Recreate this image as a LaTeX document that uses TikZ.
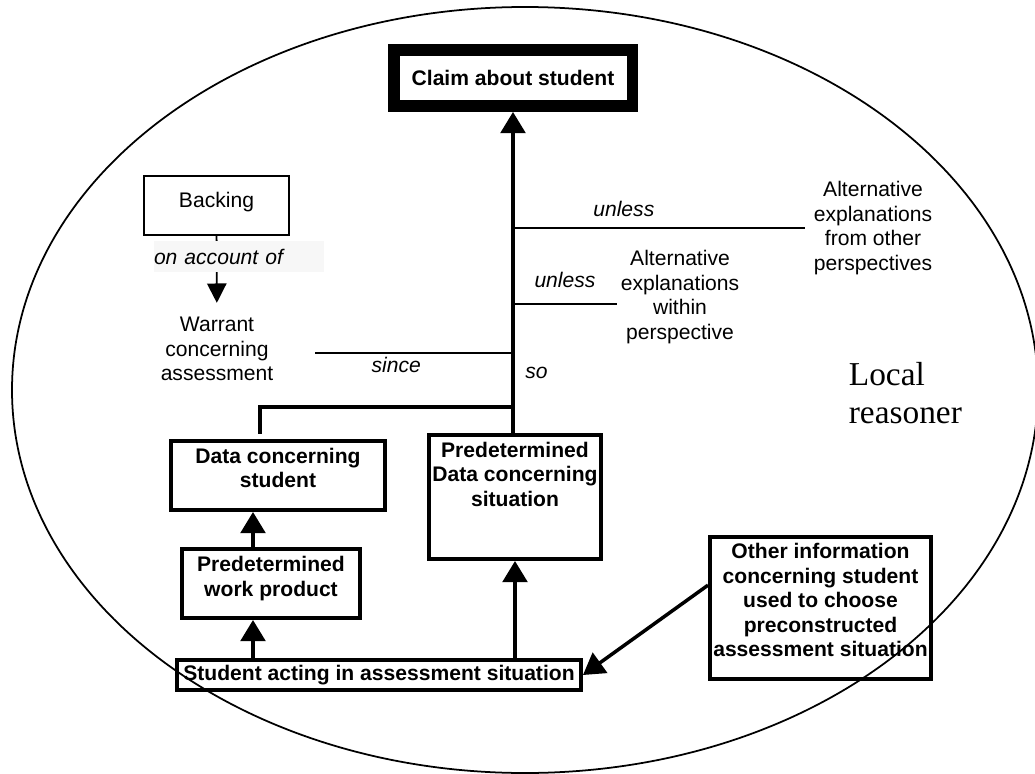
\documentclass[tikz,border=0pt]{standalone}
\usepackage{fontspec}
\setmainfont{Liberation Sans}
\newfontfamily\reasonerfont{Liberation Serif}
\usetikzlibrary{arrows.meta}

\begin{document}
\begin{tikzpicture}[x=0.02cm, y=-0.02cm,
        every node/.style={font=\fontsize{12}{13.9}\selectfont, align=center, inner sep=2pt},
        box/.style={draw, line width=2pt, font=\fontsize{12}{13.9}\selectfont\bfseries},
        thinbox/.style={draw, line width=1pt},
        lbl/.style={font=\fontsize{12}{13.9}\selectfont\itshape},
        conn/.style={line width=2pt},
        thinline/.style={line width=1pt},
        arr/.style={line width=2pt, -{Triangle[width=14pt,length=12pt]}},
        thinarr/.style={line width=1pt, -{Triangle[width=11pt,length=11pt]}}]
    \useasboundingbox (0,0) rectangle (1035,774);

    % Draw the frame of the reasoner
    \draw[line width=1pt] (525,390) ellipse [x radius=513, y radius=383];
    \node[font=\reasonerfont\fontsize{19}{22}\selectfont, align=left, anchor=west] (reasoner) at (845,393) {Local\\reasoner};

    % Draw the boxes
    \node[box, line width=6.8pt, minimum width=4.78cm, minimum height=1.12cm] (claim) at (513,78) {Claim about student};
    \node[box, minimum width=4.29cm, minimum height=1.39cm, text depth=8.5pt] (dstudent) at (278,475.5) {Data concerning\\student};
    \node[box, minimum width=3.57cm, minimum height=1.39cm, text depth=8pt] (wprod) at (271,583.5) {Predetermined\\work product};
    \node[box, minimum width=3.45cm, minimum height=2.49cm, text depth=26pt] (pdata) at (515,497) {Predetermined\\Data concerning\\situation};
    \node[box, inner xsep=1pt, minimum width=8.09cm, minimum height=0.61cm] (act) at (379,675) {Student acting in assessment situation};
    \node[box, inner xsep=1pt, minimum width=4.43cm, minimum height=2.85cm, text depth=9pt] (other) at (820.5,608) {Other information\\concerning student\\used to choose\\preconstructed\\assessment situation};

    % Draw the warrant and its backing
    \node[thinbox, minimum width=2.9cm, minimum height=1.18cm, text depth=6pt] (backing) at (216.5,205.5) {Backing};
    \node[inner ysep=8pt] (warrant) at (217,349) {Warrant\\concerning\\assessment};
    \draw[thinarr] (backing) -- (warrant);
    \node[lbl, fill=black!3, text width=3.4cm, inner xsep=0pt, align=left, minimum height=0.62cm] (account) at (239,256.5) {on account of};

    % Draw the rebuttals
    \node[inner xsep=5pt] (otherexp) at (873,228) {Alternative\\explanations\\from other\\perspectives};
    \node (withinexp) at (680,297) {Alternative\\explanations\\within\\perspective};
    \coordinate (lowunless) at ([yshift=-4pt]withinexp.west);
    \draw[thinline] (otherexp.west -| claim) -- node[lbl, pos=0.38, above=4pt] {unless} (otherexp.west);
    \draw[thinline] (lowunless -| claim) -- node[lbl, midway, above=7pt] {unless} (lowunless);

    % Draw the spine
    \coordinate (sincestart) at (315,353);
    \coordinate (join) at (513,407);
    \coordinate (stem) at (253,600);
    \draw[thinline] (sincestart) -- node[lbl, pos=0.41, below] {since} (sincestart -| claim);
    \draw[arr] (pdata.north -| claim) -- node[lbl, pos=0.187, right=4pt] {so} (claim.south);
    \draw[conn, shorten <=3pt] ([xshift=-10.2pt]dstudent.north) |- (join);

    % Draw the arrows from the performance
    \draw[arr] (wprod.north -| stem) -- (dstudent.south -| stem);
    \draw[arr] (act.north -| stem) -- (wprod.south -| stem);
    \draw[arr] (act.north -| pdata.south) -- (pdata.south);
    \draw[arr] ([yshift=13pt]other.west) -- (act.east);
\end{tikzpicture}
\end{document}
